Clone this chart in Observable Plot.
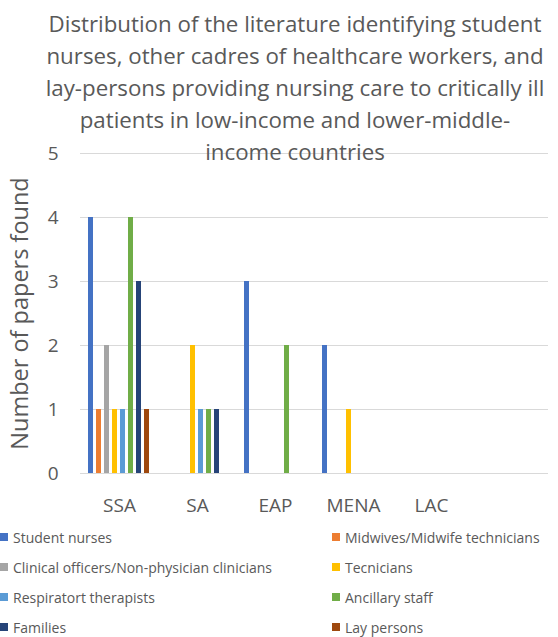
<!DOCTYPE html>
<html><head><meta charset="utf-8">
<script src="https://cdn.jsdelivr.net/npm/d3@7"></script>
<script src="https://cdn.jsdelivr.net/npm/@observablehq/plot@0.6"></script>
<style>
  body { margin: 0; background: #fff; font-family: "Open Sans", sans-serif; }
  #wrap { position: relative; width: 558px; height: 637px; overflow: hidden; }
  #chart { position: absolute; left: 0; top: 0; }
  #title { position: absolute; left: 30px; width: 530px; top: 8px; text-align: center;
           font-size: 22.3px; line-height: 32px; color: #595959; white-space: nowrap; }
  #legend { position: absolute; left: 0; top: 526px; width: 558px;
            display: grid; grid-template-columns: 332px 226px; grid-auto-rows: 30px;
            font-size: 14px; color: #595959; }
  .item { display: flex; align-items: center; height: 22px; white-space: nowrap; }
  .sw { width: 8px; height: 8px; margin-right: 5px; flex: none; }
</style>
</head><body>
<div id="wrap">
  <div id="chart"></div>
  <div id="title"></div>
  <div id="legend"></div>
</div>
<script>
// ---- data ----
const titleLines = [
  "Distribution of the literature identifying student",
  "nurses, other cadres of healthcare workers, and",
  "lay-persons providing nursing care to critically ill",
  "patients in low-income and lower-middle-",
  "income countries"
];
const regions = ["SSA", "SA", "EAP", "MENA", "LAC"];
const seriesNames = [
  "Student nurses",
  "Midwives/Midwife technicians",
  "Clinical officers/Non-physician clinicians",
  "Tecnicians",
  "Respiratort therapists",
  "Ancillary staff",
  "Families",
  "Lay persons"
];
const seriesColors = ["#4472C4", "#ED7D31", "#A5A5A5", "#FFC000", "#5B9BD5", "#70AD47", "#264478", "#9E480E"];
// values per series, one per region (SSA, SA, EAP, MENA, LAC)
const studentNurses = [4, 0, 3, 2, 0];
const midwives      = [1, 0, 0, 0, 0];
const clinical      = [2, 0, 0, 0, 0];
const tecnicians    = [1, 2, 0, 1, 0];
const respiratory   = [1, 1, 0, 0, 0];
const ancillary     = [4, 1, 2, 0, 0];
const families      = [3, 1, 0, 0, 0];
const layPersons    = [1, 0, 0, 0, 0];
const yTicks = [0, 1, 2, 3, 4, 5];

const seriesValues = [studentNurses, midwives, clinical, tecnicians, respiratory, ancillary, families, layPersons];
const rows = [];
seriesNames.forEach((s, i) => regions.forEach((r, j) => {
  if (seriesValues[i][j] > 0) rows.push({region: r, series: s, value: seriesValues[i][j]});
}));
// category slots: the five regions plus one blank slot at the right (as in the original chart area)
const slots = [...regions, ""];
const gridRows = d3.cross(slots, yTicks).map(([slot, y]) => ({slot, y}));

const chart = Plot.plot({
  width: 558,
  height: 520,
  marginLeft: 80,
  marginRight: 10,
  marginTop: 153,
  marginBottom: 47,
  style: {fontFamily: "'Open Sans', sans-serif", color: "#595959", background: "transparent"},
  fx: {domain: slots, paddingInner: 0, paddingOuter: 0},
  x: {domain: seriesNames, paddingInner: 0.33, paddingOuter: 0.9},
  y: {domain: [0, 5]},
  color: {domain: seriesNames, range: seriesColors},
  marks: [
    Plot.ruleY(gridRows, {fx: "slot", y: "y", stroke: "#d9d9d9", strokeWidth: 1}),
    Plot.barY(rows, {fx: "region", x: "series", y: "value", fill: "series"}),
    Plot.axisY({ticks: yTicks, tickFormat: d => String(d), tickSize: 0, tickPadding: 22, fontSize: 19,
                label: "Number of papers found", labelAnchor: "center", labelOffset: 69, labelArrow: "none"}),
    Plot.axisFx({anchor: "bottom", tickSize: 0, tickPadding: 25, fontSize: 19, label: null}),
    Plot.axisX({ticks: [], label: null})
  ]
});
chart.querySelectorAll("g[aria-label='y-axis label'] text").forEach(t => t.setAttribute("font-size", 23.5));
document.getElementById("chart").append(chart);

// ---- title ----
const title = document.getElementById("title");
titleLines.forEach(line => {
  const d = document.createElement("div");
  d.textContent = line;
  title.append(d);
});

// ---- legend ----
const legend = document.getElementById("legend");
seriesNames.forEach((s, i) => {
  const item = document.createElement("div");
  item.className = "item";
  const sw = document.createElement("span");
  sw.className = "sw";
  sw.style.background = seriesColors[i];
  item.append(sw, document.createTextNode(s));
  legend.append(item);
});
</script></body></html>
